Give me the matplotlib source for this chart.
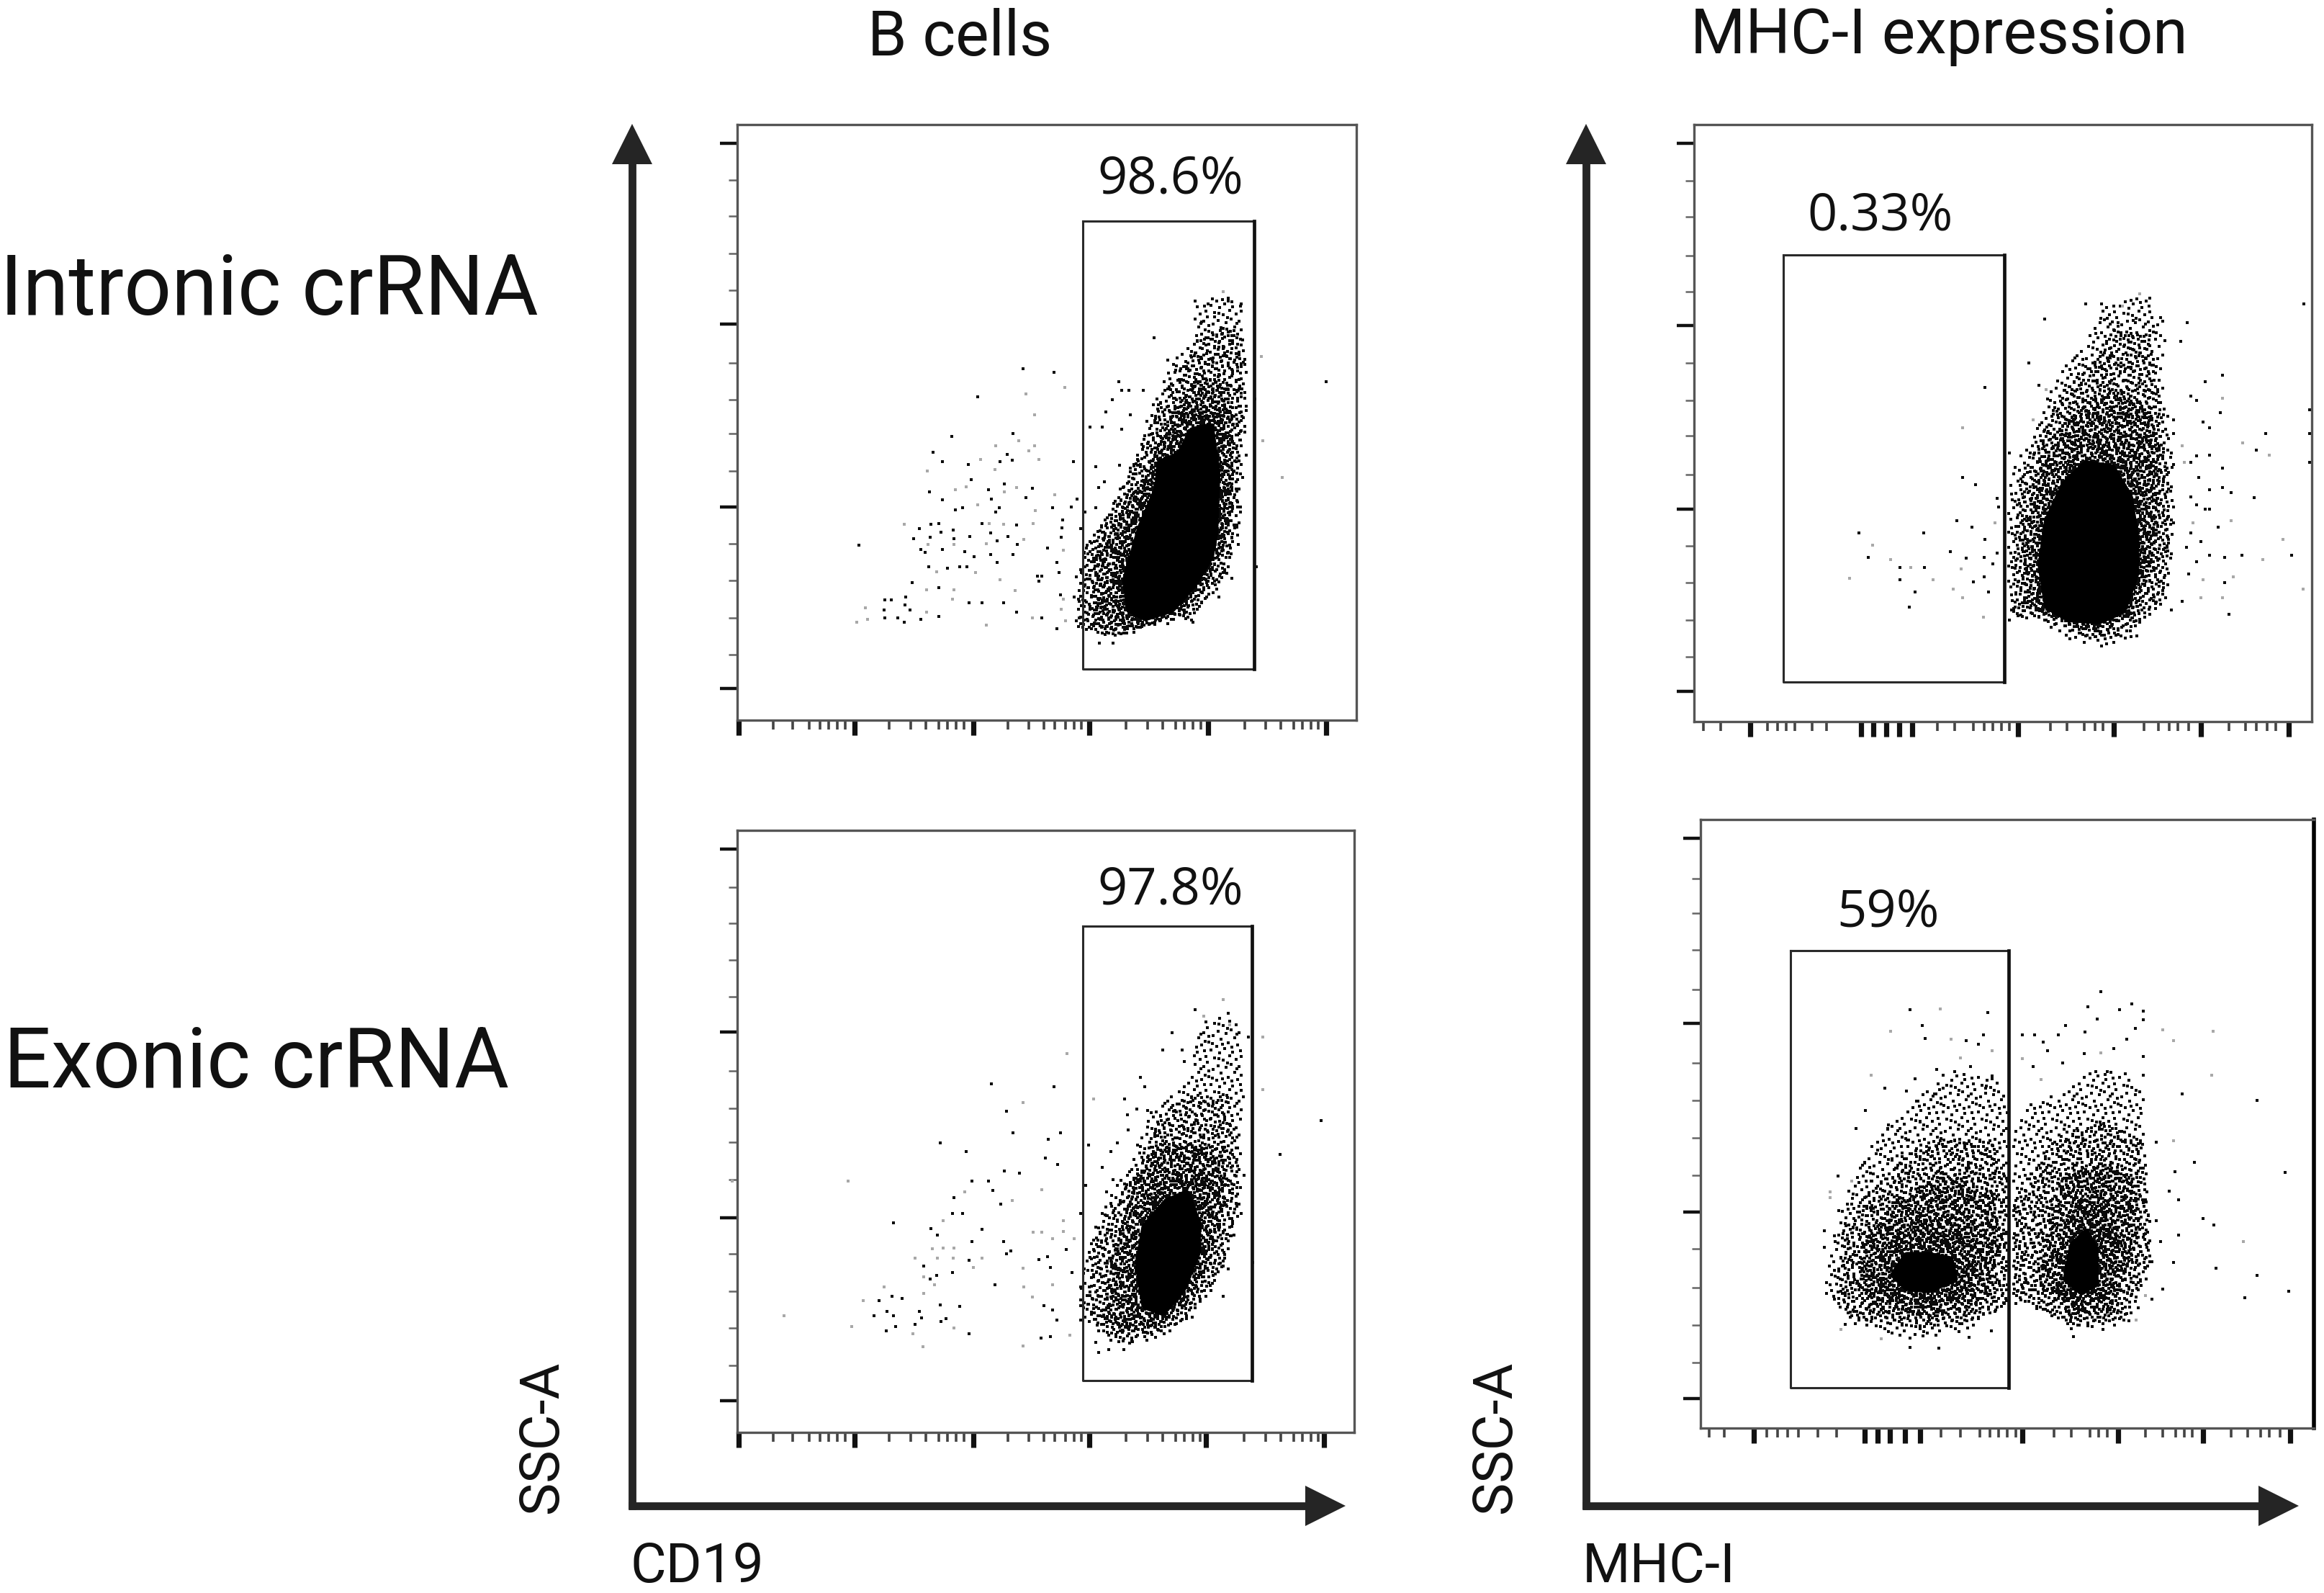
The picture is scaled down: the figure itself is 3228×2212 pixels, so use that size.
import numpy as np
import matplotlib.pyplot as plt
from matplotlib.patches import Polygon
from matplotlib.path import Path

plt.rcParams['font.family'] = ['Roboto', 'DejaVu Sans']

# everything below is read off the picture, in arbitrary scale units per panel
# --- panel A: intronic, CD19
a_x_major = [75, 345, 620, 890, 1165, 1440]
a_x_minor = [155, 200, 240, 265, 285, 305, 322, 425, 475, 510, 540, 560, 580, 598, 700, 750, 785, 810, 835, 855, 872,
             975, 1025, 1060, 1090, 1110, 1130, 1148, 1250, 1300, 1335, 1365, 1385, 1405, 1422]
a_y_major = [88, 535, 988, 1437]
a_y_minor = [180, 268, 360, 452, 632, 722, 806, 898, 1078, 1170, 1262, 1353]
a_gate = (875, 1272, 280, 1388)
a_top = [(860, 1290), (870, 1100), (930, 1010), (990, 880), (1040, 720), (1080, 640), (1130, 560), (1140, 480),
         (1200, 465), (1245, 490), (1255, 640), (1255, 780), (1240, 900), (1240, 1030), (1215, 1150), (1130, 1270),
         (1030, 1285), (960, 1310)]
a_outer = [(860, 1290), (870, 1100), (930, 1010), (990, 880), (1040, 760), (1090, 660), (1150, 570), (1225, 530),
           (1245, 640), (1245, 780), (1235, 900), (1235, 1030), (1210, 1150), (1130, 1265), (1030, 1280), (960, 1305)]
a_mid = [(900, 1280), (900, 1100), (960, 1000), (1000, 940), (1050, 830), (1100, 720), (1150, 660), (1210, 690),
         (1225, 780), (1225, 950), (1210, 1060), (1180, 1150), (1110, 1250), (1020, 1280), (950, 1295)]
a_inner = [(940, 1270), (950, 1100), (990, 980), (1040, 880), (1090, 780), (1150, 730), (1205, 780), (1215, 950),
           (1200, 1060), (1170, 1150), (1100, 1240), (1020, 1275)]
a_core = [(985, 1240), (975, 1170), (1010, 1040), (1050, 940), (1055, 880), (1100, 860), (1130, 800), (1170, 790),
          (1185, 900), (1180, 1050), (1170, 1110), (1130, 1180), (1080, 1240), (1020, 1260)]
a_dots = [(735, 646), (808, 654), (631, 715), (713, 806), (571, 814), (527, 852), (699, 858), (683, 875), (711, 872),
          (549, 875), (608, 882), (853, 875), (616, 920), (693, 930), (757, 942), (655, 945), (519, 951), (662, 968),
          (549, 970), (742, 965), (862, 968), (578, 995), (595, 990), (680, 990), (672, 1000), (805, 990), (848, 988),
          (522, 1030), (541, 1028), (640, 1028), (720, 1032), (495, 1042), (546, 1050), (573, 1044), (660, 1052),
          (828, 1020), (826, 1040), (870, 1042), (482, 1066), (520, 1062), (575, 1066), (612, 1060), (700, 1060),
          (825, 1062), (355, 1082), (498, 1092), (548, 1092), (600, 1098), (675, 1072), (722, 1080), (792, 1090),
          (508, 1100), (713, 1105), (660, 1105), (622, 1110), (815, 1125), (517, 1135), (560, 1140), (588, 1135),
          (605, 1135), (675, 1125), (770, 1158), (780, 1158), (820, 1150), (860, 1160), (478, 1175), (772, 1172),
          (540, 1188), (822, 1205), (463, 1210), (415, 1218), (430, 1218), (610, 1225), (640, 1225), (690, 1225),
          (462, 1230), (413, 1242), (473, 1242), (540, 1258), (720, 1248), (780, 1262), (415, 1262), (445, 1262),
          (460, 1272), (498, 1265), (815, 1288), (1440, 677), (1275, 720), (1278, 1135),
          (958, 677), (965, 700), (982, 700), (943, 722), (928, 752), (892, 790), (920, 790), (965, 795), (1040, 570),
          (1015, 700), (985, 760), (905, 888), (960, 885), (912, 940), (925, 925), (905, 990), (960, 980), (880, 1000),
          (1072, 625), (1090, 650), (1135, 478), (1165, 485), (1212, 478), (1242, 485), (1150, 530), (1180, 518),
          (1225, 552), (1140, 578), (1160, 570), (1200, 590), (1245, 575), (1118, 645), (1175, 625), (1215, 620),
          (1248, 630), (1075, 690), (1100, 680), (1145, 660), (1190, 660), (1235, 700), (1255, 750), (1050, 735),
          (1240, 800), (1255, 860), (1245, 915), (1240, 1000), (1235, 1080), (1220, 1165), (1185, 1190), (1190, 1210),
          (855, 1210), (860, 1270), (890, 1285), (935, 1300), (970, 1300), (913, 1325), (945, 1325), (1130, 1272)]
a_faint = [(833, 692), (743, 708), (762, 760), (725, 824), (763, 836), (672, 836), (750, 848), (772, 870), (638, 870),
           (514, 898), (670, 895), (720, 940), (603, 938), (578, 945), (693, 950), (810, 958), (631, 982), (765, 996),
           (460, 1030), (658, 1028), (690, 1030), (760, 1028), (738, 1068), (515, 1080), (575, 1080), (650, 1078),
           (830, 1095), (535, 1148), (625, 1150), (683, 1168), (575, 1192), (512, 1192), (718, 1195), (572, 1215),
           (830, 1215), (370, 1238), (512, 1248), (758, 1262), (825, 1240), (350, 1272), (375, 1265), (650, 1280),
           (835, 1270), (1337, 915), (1292, 824), (1290, 616), (1200, 455)]
a_label = ('98.6%', 1078, 179)

# --- panel B: intronic, MHC-I
b_x_major = [220, 480, 510, 540, 570, 600, 850, 1075, 1280, 1485]
b_x_minor = [110, 150, 260, 285, 305, 325, 365, 400, 660, 700, 745, 770, 790, 810,
             830, 925, 965, 1005, 1030, 1050, 1145, 1180, 1205, 1225, 1250, 1345, 1385, 1410, 1435, 1455]
b_y_major = [88, 537, 990, 1440]
b_y_minor = [180, 270, 365, 455, 630, 722, 810, 905, 1082, 1172, 1265, 1355]
b_gate = (297, 817, 363, 1417)
b_top = [(830, 1260), (825, 1100), (830, 900), (890, 800), (930, 680), (1020, 560), (1045, 490), (1150, 465),
         (1190, 520), (1190, 680), (1210, 800), (1215, 950), (1215, 1100), (1200, 1220), (1130, 1300), (1050, 1330),
         (960, 1310), (900, 1270)]
b_outer = [(840, 1250), (840, 1100), (850, 920), (900, 820), (950, 690), (1030, 620), (1080, 540), (1160, 560),
           (1180, 680), (1190, 800), (1205, 950), (1205, 1100), (1190, 1210), (1120, 1290), (1050, 1310), (960, 1295),
           (900, 1260)]
b_mid = [(870, 1230), (860, 1050), (890, 920), (940, 800), (1000, 730), (1080, 700), (1160, 740), (1185, 850),
         (1180, 1000), (1170, 1120), (1120, 1260), (1040, 1295), (960, 1275)]
b_inner = [(900, 1240), (890, 1080), (930, 960), (980, 860), (1050, 830), (1120, 860), (1150, 980), (1150, 1120),
           (1110, 1250), (1040, 1280), (960, 1265)]
b_core = [(920, 1230), (905, 1130), (920, 1020), (960, 930), (1010, 880), (1070, 890), (1110, 960), (1125, 1060),
          (1125, 1150), (1095, 1240), (1040, 1265), (970, 1260)]
b_dots = [(475, 1050), (628, 1050), (497, 1110), (572, 1135), (630, 1135), (572, 1165), (608, 1195), (594, 1232),
          (772, 690), (720, 912), (750, 930), (705, 1020), (742, 1035), (772, 1065), (690, 1095), (727, 1112),
          (770, 1110), (790, 1125), (770, 1158), (745, 1170), (780, 1195), (800, 1100), (800, 965), (803, 985),
          (875, 630), (898, 685), (912, 522), (1008, 485), (1045, 485), (1160, 470), (1138, 480), (1060, 520),
          (1085, 530), (1120, 525), (1185, 518), (1248, 530), (1522, 485), (1195, 575), (1232, 577),
          (1290, 677), (1330, 660), (1255, 712), (1270, 722), (1325, 752),
          (1215, 770), (1285, 775), (1300, 790), (1432, 805), (1535, 745), (1535, 805),
          (1215, 805), (830, 852), (1410, 845), (1535, 875), (1270, 860), (1300, 858),
          (1255, 875), (1330, 890), (1275, 912), (1215, 880), (1330, 937), (1300, 942),
          (1255, 960), (1350, 950), (1270, 980), (1290, 990), (1300, 990), (1405, 962),
          (1215, 985), (1320, 1035), (1255, 1050), (1215, 1025), (1280, 1070), (1200, 1085),
          (1245, 1085), (1300, 1105), (1375, 1105), (1492, 1105), (1270, 1120),
          (1335, 1110), (1250, 1150), (1335, 1172), (1236, 1218), (835, 1240), (830, 1265), (1345, 1250),
          (1210, 1240), (1128, 1303), (1045, 1328)]
b_faint = [(507, 1080), (453, 1162), (550, 1115), (598, 1135), (650, 1165), (720, 790), (720, 1210), (768, 1258),
           (698, 1188), (715, 1138), (795, 1025), (1135, 460), (1095, 490), (915, 695),
           (1330, 718), (885, 770), (1378, 828), (1440, 858), (1235, 835), (1240, 875), (1350, 1020), (1472, 1065),
           (1425, 1115), (1285, 1165), (1280, 1210), (1330, 1210), (1520, 1188), (1355, 1158), (1260, 1025)]
b_label = ('0.33%', 525, 269)

# --- panel C: exonic, CD19
c_x_major = [75, 345, 620, 890, 1160, 1435]
c_x_minor = a_x_minor
c_y_major = [85, 528, 978, 1420]
c_y_minor = [178, 265, 353, 443, 622, 712, 795, 885, 1065, 1155, 1245, 1335]
c_gate = (875, 1267, 271, 1372)
c_top = [(865, 1210), (880, 1060), (920, 960), (990, 830), (1040, 700), (1120, 640), (1140, 540), (1165, 490),
         (1235, 500), (1250, 640), (1240, 800), (1240, 960), (1210, 1100), (1130, 1220), (1050, 1270), (950, 1290)]
c_outer = [(880, 1210), (895, 1060), (935, 960), (1000, 850), (1060, 720), (1130, 680), (1215, 680), (1235, 800),
           (1235, 950), (1205, 1090), (1130, 1210), (1050, 1260), (950, 1280)]
c_mid = [(920, 1220), (940, 1070), (990, 900), (1050, 800), (1130, 790), (1205, 830), (1205, 950), (1170, 1090),
         (1115, 1190), (1050, 1240), (960, 1255)]
c_inner = [(985, 1220), (985, 1060), (1020, 930), (1090, 870), (1165, 880), (1175, 980), (1150, 1090), (1100, 1190),
           (1050, 1225)]
c_core = [(1020, 1190), (1005, 1090), (1020, 1000), (1070, 940), (1115, 920), (1140, 990), (1140, 1060), (1105, 1150),
          (1060, 1205)]
c_dots = [(662, 654), (808, 660), (698, 720), (712, 772), (795, 787), (823, 772), (544, 796), (603, 818), (787, 833),
          (816, 848), (692, 865), (728, 870), (655, 888), (617, 888), (665, 912), (575, 928), (684, 945), (572, 968),
          (596, 968), (435, 990), (522, 1003), (640, 1005), (537, 1020), (617, 1035), (690, 1035), (708, 1058),
          (697, 1065), (836, 1055), (610, 1080), (772, 1078), (792, 1072), (505, 1095), (536, 1117), (572, 1110),
          (800, 1098), (670, 1140), (520, 1125), (402, 1178), (432, 1168), (455, 1172), (390, 1215), (420, 1205),
          (435, 1215), (495, 1205), (500, 1220), (543, 1188), (588, 1192), (785, 1190), (805, 1200), (815, 1225),
          (545, 1228), (557, 1222), (440, 1240), (485, 1235), (418, 1252), (610, 1258), (778, 1268), (800, 1266),
          (1428, 743), (1332, 825), (1260, 540), (1270, 1085),
          (1135, 474), (1213, 482), (1082, 530), (1060, 572), (1105, 572), (1110, 600), (1008, 638),
          (972, 690), (1018, 660), (1000, 714), (978, 728), (1025, 718), (980, 765), (888, 802), (955, 796),
          (940, 818), (920, 855), (1250, 875), (945, 885), (882, 900), (930, 915), (975, 905), (1243, 968),
          (870, 968), (930, 972), (905, 1000), (1225, 1020), (1213, 1102), (850, 1110), (870, 1145),
          (1200, 1168), (870, 1190), (870, 1225), (905, 1280), (935, 1297), (912, 1304), (970, 1297), (990, 1278)]
c_faint = [(838, 580), (735, 698), (900, 690), (1200, 450), (1292, 540), (1292, 668), (1155, 490), (1215, 510),
           (330, 888), (60, 888), (780, 910), (710, 935), (600, 915), (550, 985), (830, 985), (760, 1012), (780, 1012),
           (830, 1010), (805, 1028), (855, 1028), (525, 1052), (550, 1050), (575, 1050), (485, 1075), (537, 1075),
           (573, 1075), (640, 1075), (620, 1098), (735, 1100), (505, 1120), (530, 1140), (738, 1145), (805, 1140),
           (413, 1145), (505, 1160), (365, 1178), (757, 1170), (180, 1214), (338, 1240), (480, 1258), (575, 1245),
           (503, 1290), (735, 1287), (845, 1262)]
c_label = ('97.8%', 1078, 186)

# --- panel D: exonic, MHC-I
d_x_major = [230, 490, 520, 550, 585, 620, 860, 1085, 1285, 1490]
d_x_minor = [125, 160, 260, 285, 310, 335, 380, 425, 670, 715, 760, 785, 805, 825,
             845, 935, 975, 1020, 1040, 1060, 1150, 1190, 1220, 1240, 1260, 1350, 1390, 1420, 1440, 1465]
d_y_major = [78, 525, 980, 1428]
d_y_minor = [175, 258, 348, 442, 620, 710, 800, 890, 1068, 1162, 1252, 1342]
d_gate = (316, 828, 349, 1403)
d_top = [[(400, 1180), (420, 1000), (470, 890), (530, 780), (620, 700), (700, 640), (790, 650), (825, 700), (825, 1210),
          (720, 1270), (600, 1285), (470, 1250)],
         [(840, 1200), (840, 780), (880, 720), (960, 690), (1020, 640), (1100, 640), (1145, 700), (1150, 900),
          (1170, 1100), (1110, 1250), (990, 1260), (900, 1220)]]
d_outer = [[(420, 1200), (440, 1020), (500, 930), (570, 850), (680, 800), (790, 810), (825, 900), (825, 1205),
            (720, 1250), (600, 1260), (470, 1240)],
           [(840, 1190), (840, 960), (880, 880), (950, 790), (1040, 760), (1140, 800), (1155, 900), (1160, 1100),
            (1100, 1240), (990, 1255), (900, 1220)]]
d_mid = [[(470, 1160), (490, 1040), (560, 950), (680, 890), (790, 930), (810, 1060), (780, 1190), (650, 1235),
          (520, 1220)],
         [(900, 1150), (920, 1020), (950, 900), (1040, 860), (1125, 900), (1130, 1050), (1080, 1210), (980, 1235)]]
d_inner = [[(520, 1180), (530, 1080), (600, 1000), (700, 990), (760, 1070), (730, 1190), (620, 1215)],
           [(930, 1170), (950, 1040), (1000, 950), (1060, 960), (1090, 1060), (1060, 1190), (990, 1215)]]
d_core = [[(560, 1130), (590, 1085), (640, 1085), (690, 1095), (700, 1140), (640, 1165), (590, 1160)],
          [(965, 1140), (980, 1060), (1010, 1030), (1030, 1070), (1030, 1150), (1000, 1170)]]
d_dots = [(596, 492), (780, 498), (625, 530), (632, 560), (770, 552), (728, 566), (757, 575), (738, 628), (660, 635),
          (608, 658), (675, 650), (790, 658), (537, 680), (588, 688), (675, 680), (775, 680), (612, 712), (655, 695),
          (492, 735), (545, 778), (470, 778), (620, 760), (520, 830), (590, 805),
          (490, 860), (555, 850), (427, 892), (505, 905), (460, 960), (430, 975), (396, 1025), (395, 1065),
          (400, 1150), (400, 1175), (420, 1190), (445, 1250), (788, 1266), (735, 1282), (596, 1305), (665, 1308),
          (860, 552), (890, 552), (910, 570), (945, 552), (962, 530), (1014, 484), (1044, 448), (1117, 478), (1145, 495),
          (1088, 492), (1037, 514), (1145, 515), (1125, 537), (1007, 545), (1105, 563), (1075, 585), (920, 590),
          (1005, 597), (1145, 605), (885, 628), (955, 620), (1060, 640), (1145, 650),
          (1175, 810), (1265, 860), (1218, 882), (1478, 883), (1205, 928), (1228, 950), (1175, 1000),
          (1228, 1035), (1285, 995), (1310, 1010), (1185, 1050), (1215, 1100), (1315, 1115),
          (1412, 1132), (1190, 1165), (1383, 1185), (1485, 1170), (1165, 1190), (1132, 1210),
          (975, 1260), (980, 1280), (1050, 1262), (1235, 695), (1412, 710)]
d_faint = [(668, 490), (552, 544), (693, 563), (715, 608), (505, 650), (790, 590), (410, 930), (410, 945), (435, 1262),
           (530, 1285), (1190, 540), (1215, 566), (1308, 544), (1305, 650), (860, 610), (905, 660), (1045, 595),
           (1215, 808), (1380, 1050), (1215, 1100), (1150, 1180), (460, 905), (1128, 1240)]
d_label = ('59%', 545, 259)

rows = ['Intronic crRNA', 'Exonic crRNA']
titles = ['B cells', 'MHC-I expression']
y_name = 'SSC-A'
x_names = ['CD19', 'MHC-I']

# fill pattern for the dense clouds, thousands of events cannot be read one by one.
# works like a hatch: the outlines above say where and how dark, these small stamps only give the speckle
STAMPS = {
    'A': (67, [(3, 12), (9, 41), (14, 60), (20, 27), (24, 5), (28, 49), (33, 18), (36, 37), (41, 58), (44, 8), (47, 29),
               (52, 46), (55, 15), (60, 35), (63, 56), (65, 3), (7, 28), (17, 48), (31, 2), (38, 26), (50, 62), (58, 24),
               (12, 17), (26, 33), (43, 42), (61, 10)]),
    'B': (83, [(2, 20), (6, 55), (10, 74), (15, 38), (19, 9), (23, 64), (27, 29), (31, 80), (34, 47), (39, 15), (42, 70),
               (46, 33), (50, 57), (54, 4), (57, 25), (61, 78), (65, 44), (68, 13), (72, 62), (76, 31), (80, 52), (81, 6),
               (13, 58), (29, 11), (37, 60), (48, 22), (59, 66), (70, 36), (78, 75), (5, 41)]),
    'C': (59, [(1, 8), (4, 31), (7, 50), (10, 19), (13, 41), (16, 3), (19, 28), (22, 55), (25, 13), (27, 37), (30, 47),
               (33, 22), (36, 5), (38, 33), (41, 54), (44, 16), (46, 42), (49, 26), (52, 7), (54, 49), (57, 34), (8, 39),
               (18, 12), (24, 46), (32, 58), (40, 2), (48, 11), (55, 21), (12, 56), (35, 44)]),
    'D': (71, [(3, 33), (6, 8), (9, 58), (12, 25), (16, 46), (20, 66), (23, 14), (26, 37), (30, 3), (33, 53), (37, 22),
               (40, 42), (43, 63), (47, 10), (50, 31), (53, 50), (57, 18), (60, 68), (63, 39), (66, 5), (69, 28),
               (14, 60), (28, 20), (35, 33), (45, 55), (52, 1), (59, 45), (67, 56), (1, 49), (18, 30)]),
}

W, H = 3228, 2212
DARK = '#252525'


def px_axes(fig, left, right, top, bottom):
    return fig.add_axes([left / W, 1 - bottom / H, (right - left) / W, (bottom - top) / H])


def speckle(ax, outline, letters):
    outline = np.array(outline)
    path = Path(outline)
    for letter in letters:
        period, stamp = STAMPS[letter]
        stamp = np.array(stamp)
        xs = np.arange(outline[:, 0].min() // period, outline[:, 0].max() // period + 1) * period
        ys = np.arange(outline[:, 1].min() // period, outline[:, 1].max() // period + 1) * period
        pts = np.array([stamp + (x, y) for x in xs for y in ys]).reshape(-1, 2)
        pts = pts[path.contains_points(pts)]
        ax.scatter(pts[:, 0], pts[:, 1], s=2.0, marker='s', c='#0a0a0a', linewidths=0, zorder=1.5)


def draw_panel(fig, box, lims, x_major, x_minor, y_major, y_minor, gate, bands, core, dots, faint, label):
    ax = px_axes(fig, *box)
    ax.set_xlim(lims[0], lims[1])
    ax.set_ylim(lims[3], lims[2])
    for outlines, letters in bands:
        for outline in outlines:
            speckle(ax, outline, letters)
    for outline in core:
        ax.add_patch(Polygon(outline, closed=True, fc='black', ec='black', lw=4, joinstyle='round', zorder=1.8))
    for pts, color in ((faint, '#a8a8a8'), (dots, '#0a0a0a')):
        pts = np.array(pts)
        ax.scatter(pts[:, 0], pts[:, 1], s=2.0, marker='s', c=color, linewidths=0, zorder=2, clip_on=False)
    x0, x1, y0, y1 = gate
    ax.plot([x0, x1, x1, x0, x0], [y0, y0, y1, y1, y0], color='#2a2a2a', lw=1.1, zorder=3)
    ax.plot([x1, x1], [y0, y1], color='#111111', lw=1.7, zorder=3)
    ax.text(label[1], label[2], label[0], ha='center', va='center', fontsize=26, family='Open Sans', color='#111111')
    for s in ax.spines.values():
        s.set_color('#555555')
        s.set_linewidth(1.2)
    ax.yaxis.tick_left()
    ax.xaxis.tick_bottom()
    ax.set_xticks(x_major)
    ax.set_xticks(x_minor, minor=True)
    ax.set_yticks(y_major)
    ax.set_yticks(y_minor, minor=True)
    ax.tick_params(which='major', axis='y', length=8.5, width=1.6, color='#111111', labelleft=False)
    ax.tick_params(which='minor', axis='y', length=4.5, width=0.9, color='#666666')
    ax.tick_params(which='major', axis='x', length=7.5, width=2.6, color='#111111', labelbottom=False)
    ax.tick_params(which='minor', axis='x', length=4.5, width=1.3, color='#444444')
    return ax


def arrow_frame(ov, x, top, bottom, right):
    ov.plot([x, x], [bottom, top + 50], color=DARK, lw=3.9, solid_capstyle='butt')
    ov.plot([x - 5, right - 50], [bottom - 5, bottom - 5], color=DARK, lw=3.9, solid_capstyle='butt')
    ov.add_patch(Polygon([(x - 28, top + 56), (x + 28, top + 56), (x, top)], fc=DARK, ec='none'))
    ov.add_patch(Polygon([(right - 56, bottom - 33), (right - 56, bottom + 23), (right, bottom - 5)], fc=DARK, ec='none'))


fig = plt.figure(figsize=(W / 200, H / 200), dpi=200, facecolor='white')

ov = fig.add_axes([0, 0, 1, 1])
ov.set_xlim(0, W)
ov.set_ylim(H, 0)
ov.axis('off')
arrow_frame(ov, 878, 172, 2096, 1869)
arrow_frame(ov, 2203, 172, 2096, 3193)

ov.text(0, 405, rows[0], fontsize=41.6, va='center', ha='left', color='#111111')
ov.text(5, 1478, rows[1], fontsize=41.8, va='center', ha='left', color='#111111')
ov.text(1333, 53, titles[0], fontsize=31.5, va='center', ha='center', color='#111111')
ov.text(2693, 50, titles[1], fontsize=31.5, va='center', ha='center', color='#111111')
ov.text(754, 1995, y_name, fontsize=27.5, rotation=90, va='center', ha='center', color='#111111')
ov.text(2078, 1995, y_name, fontsize=27.5, rotation=90, va='center', ha='center', color='#111111')
ov.text(875, 2176, x_names[0], fontsize=27.5, va='center', ha='left', color='#111111')
ov.text(2198, 2176, x_names[1], fontsize=27.5, va='center', ha='left', color='#111111')

draw_panel(fig, (1024, 1884, 173, 1000), (72, 1510, 42, 1515), a_x_major, a_x_minor, a_y_major, a_y_minor, a_gate,
           [([a_top], 'B'), ([a_outer], 'A'), ([a_mid], 'C'), ([a_inner], 'D')], [a_core], a_dots, a_faint, a_label)
draw_panel(fig, (2353, 3211, 173, 1002), (88, 1540, 42, 1515), b_x_major, b_x_minor, b_y_major, b_y_minor, b_gate,
           [([b_top], 'B'), ([b_outer], 'A'), ([b_mid], 'C'), ([b_inner], 'D')], [b_core], b_dots, b_faint, b_label)
draw_panel(fig, (1024, 1881, 1153, 1989), (72, 1505, 40, 1497), c_x_major, c_x_minor, c_y_major, c_y_minor, c_gate,
           [([c_top], 'B'), ([c_outer], 'A'), ([c_mid], 'C'), ([c_inner], 'D')], [c_core], c_dots, c_faint, c_label)
ax_d = draw_panel(fig, (2362, 3214, 1138, 1983), (105, 1545, 33, 1500), d_x_major, d_x_minor, d_y_major, d_y_minor,
                  d_gate, [(d_top, 'B'), (d_outer, 'A'), (d_mid, 'C'), (d_inner, 'D')], d_core, d_dots, d_faint, d_label)
ax_d.spines['right'].set_color('black')
ax_d.spines['right'].set_linewidth(2)

fig.savefig('out.png', dpi=200)
